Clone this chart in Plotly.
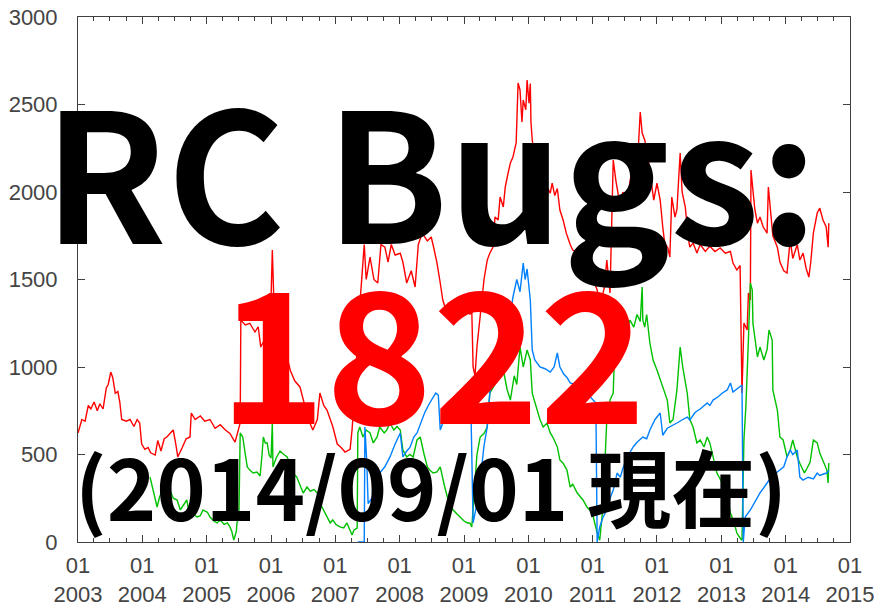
import datetime as dt
import plotly.graph_objects as go

# ---- data (decimal years, counts) ----
red_years = [2003.00, 2003.06, 2003.11, 2003.16, 2003.20, 2003.25, 2003.30, 2003.34, 2003.39, 2003.44,
             2003.47, 2003.51, 2003.54, 2003.58, 2003.62, 2003.65, 2003.68, 2003.75, 2003.81, 2003.87,
             2003.92, 2003.96, 2003.99, 2004.04, 2004.09, 2004.13, 2004.20, 2004.24, 2004.29, 2004.34,
             2004.38, 2004.43, 2004.48, 2004.52, 2004.55, 2004.62, 2004.68, 2004.74, 2004.76, 2004.82,
             2004.90, 2004.97, 2005.05, 2005.13, 2005.21, 2005.29, 2005.36, 2005.44, 2005.49, 2005.52,
             2005.53, 2005.60, 2005.67, 2005.75, 2005.80, 2005.84, 2005.89, 2005.94, 2005.98, 2006.02,
             2006.05, 2006.11, 2006.19, 2006.25, 2006.30, 2006.37, 2006.45, 2006.51, 2006.58, 2006.65,
             2006.72, 2006.76, 2006.82, 2006.87, 2006.92, 2006.96, 2007.03, 2007.09, 2007.15, 2007.23,
             2007.26, 2007.31, 2007.35, 2007.41, 2007.45, 2007.48, 2007.54, 2007.60, 2007.66, 2007.71,
             2007.77, 2007.82, 2007.87, 2007.93, 2008.01, 2008.05, 2008.11, 2008.18, 2008.24, 2008.29,
             2008.35, 2008.43, 2008.49, 2008.53, 2008.58, 2008.63, 2008.67, 2008.74, 2008.80, 2008.86,
             2008.91, 2008.97, 2009.03, 2009.09, 2009.12, 2009.14, 2009.17, 2009.20, 2009.25, 2009.31,
             2009.36, 2009.40, 2009.45, 2009.48, 2009.53, 2009.56, 2009.61, 2009.64, 2009.68, 2009.72,
             2009.76, 2009.81, 2009.84, 2009.87, 2009.90, 2009.92, 2009.96, 2009.98, 2010.01, 2010.03,
             2010.04, 2010.06, 2010.10, 2010.18, 2010.26, 2010.34, 2010.37, 2010.41, 2010.45, 2010.49,
             2010.54, 2010.59, 2010.65, 2010.69, 2010.77, 2010.85, 2010.93, 2011.01, 2011.07, 2011.11,
             2011.18, 2011.22, 2011.27, 2011.32, 2011.36, 2011.43, 2011.47, 2011.53, 2011.60, 2011.66,
             2011.71, 2011.74, 2011.77, 2011.81, 2011.86, 2011.89, 2011.95, 2012.00, 2012.05, 2012.09,
             2012.12, 2012.17, 2012.20, 2012.23, 2012.28, 2012.31, 2012.36, 2012.39, 2012.44, 2012.48,
             2012.51, 2012.56, 2012.62, 2012.67, 2012.75, 2012.82, 2012.90, 2012.98, 2013.06, 2013.14,
             2013.18, 2013.24, 2013.29, 2013.32, 2013.35, 2013.40, 2013.42, 2013.45, 2013.46, 2013.49,
             2013.52, 2013.56, 2013.60, 2013.65, 2013.71, 2013.73, 2013.76, 2013.80, 2013.87, 2013.91,
             2013.97, 2014.02, 2014.07, 2014.11, 2014.18, 2014.22, 2014.27, 2014.32, 2014.36, 2014.39,
             2014.43, 2014.46, 2014.49, 2014.53, 2014.58, 2014.63, 2014.66, 2014.67]
red_values = [623, 700, 690, 780, 760, 800, 750, 790, 760, 880,
              900, 971, 940, 850, 860, 800, 700, 690, 700, 660,
              700, 680, 560, 530, 540, 510, 497, 580, 520, 590,
              600, 620, 640, 560, 486, 540, 590, 600, 737, 700,
              720, 690, 700, 650, 670, 640, 620, 571, 640, 680,
              1268, 1240, 1250, 1200, 1230, 1114, 1150, 1080, 1120, 1668,
              1300, 1150, 1080, 1057, 980, 920, 886, 794, 700, 640,
              700, 851, 780, 754, 700, 660, 560, 540, 514, 530,
              640, 900, 1200, 1500, 1700, 1500, 1628, 1500, 1480, 1700,
              1685, 1600, 1700, 1640, 1650, 1600, 1480, 1550, 1457, 1700,
              1765, 1720, 1743, 1680, 1594, 1480, 1383, 1300, 1340, 1285,
              1330, 1300, 1343, 1300, 1320, 1000, 950, 1114, 1300, 1500,
              1611, 1650, 1685, 1857, 1840, 1971, 1914, 2028, 2100, 2166,
              2200, 2280, 2623, 2583, 2400, 2525, 2470, 2640, 2508, 2620,
              2400, 2297, 2200, 2100, 2050, 1994, 2051, 1980, 2020, 1897,
              1840, 1765, 1700, 1668, 1650, 1600, 1550, 1500, 1440, 1350,
              1450, 1611, 1423, 2183, 2068, 1914, 2000, 1950, 2100, 2150,
              2250, 2457, 2337, 2297, 2200, 2108, 1954, 2050, 1954, 1800,
              1708, 1680, 1628, 1971, 1857, 1900, 2223, 2000, 1914, 1750,
              1685, 1708, 1651, 1700, 1660, 1690, 1660, 1680, 1650, 1660,
              1594, 1554, 1580, 851, 1251, 1211, 1423, 1383, 2126, 2011,
              1900, 1822, 1857, 1800, 1765, 2028, 1900, 1750, 1685, 1600,
              1550, 1537, 1725, 1620, 1700, 1611, 1651, 1560, 1514, 1600,
              1765, 1820, 1880, 1908, 1840, 1800, 1685, 1822]

green_years = [2004.12, 2004.17, 2004.23, 2004.27, 2004.32, 2004.38, 2004.43, 2004.48, 2004.54, 2004.59,
               2004.65, 2004.69, 2004.74, 2004.79, 2004.85, 2004.90, 2004.94, 2005.01, 2005.05, 2005.11,
               2005.16, 2005.21, 2005.27, 2005.32, 2005.36, 2005.39, 2005.42, 2005.46, 2005.47, 2005.50,
               2005.52, 2005.56, 2005.60, 2005.63, 2005.67, 2005.72, 2005.78, 2005.83, 2005.86, 2005.88,
               2005.91, 2005.94, 2005.97, 2006.00, 2006.02, 2006.03, 2006.08, 2006.14, 2006.20, 2006.25,
               2006.30, 2006.34, 2006.40, 2006.45, 2006.50, 2006.56, 2006.61, 2006.67, 2006.72, 2006.76,
               2006.82, 2006.87, 2006.92, 2006.96, 2007.01, 2007.07, 2007.13, 2007.18, 2007.23, 2007.26,
               2007.29, 2007.34, 2007.35, 2007.38, 2007.43, 2007.48, 2007.54, 2007.59, 2007.65, 2007.69,
               2007.76, 2007.80, 2007.85, 2007.91, 2007.96, 2008.01, 2008.05, 2008.11, 2008.16, 2008.21,
               2008.27, 2008.32, 2008.38, 2008.43, 2008.47, 2008.52, 2008.58, 2008.63, 2008.69, 2008.74,
               2008.78, 2008.83, 2008.89, 2008.94, 2009.00, 2009.05, 2009.09, 2009.12, 2009.16, 2009.20,
               2009.25, 2009.31, 2009.36, 2009.40, 2009.48, 2009.56, 2009.61, 2009.67, 2009.72, 2009.78,
               2009.82, 2009.87, 2009.92, 2009.98, 2010.03, 2010.06, 2010.10, 2010.14, 2010.18, 2010.23,
               2010.29, 2010.34, 2010.38, 2010.45, 2010.49, 2010.54, 2010.60, 2010.65, 2010.69, 2010.76,
               2010.80, 2010.85, 2010.91, 2010.96, 2011.01, 2011.07, 2011.11, 2011.16, 2011.22, 2011.27,
               2011.32, 2011.35, 2011.38, 2011.43, 2011.47, 2011.53, 2011.58, 2011.64, 2011.69, 2011.74,
               2011.77, 2011.78, 2011.81, 2011.84, 2011.89, 2011.94, 2012.00, 2012.05, 2012.09, 2012.16,
               2012.20, 2012.25, 2012.31, 2012.36, 2012.40, 2012.47, 2012.51, 2012.56, 2012.62, 2012.67,
               2012.73, 2012.78, 2012.82, 2012.87, 2012.93, 2012.98, 2013.04, 2013.09, 2013.14, 2013.20,
               2013.24, 2013.29, 2013.32, 2013.35, 2013.38, 2013.42, 2013.45, 2013.48, 2013.49, 2013.56,
               2013.60, 2013.66, 2013.71, 2013.74, 2013.79, 2013.80, 2013.87, 2013.91, 2013.96, 2014.02,
               2014.07, 2014.11, 2014.18, 2014.22, 2014.29, 2014.33, 2014.38, 2014.43, 2014.49, 2014.53,
               2014.58, 2014.64, 2014.66, 2014.67]
green_values = [371, 300, 200, 260, 297, 260, 297, 250, 240, 183,
                220, 240, 143, 160, 143, 150, 183, 170, 143, 120,
                109, 126, 100, 109, 86, 60, 11, 60, 109, 143,
                623, 600, 500, 429, 411, 394, 400, 377, 500, 600,
                566, 566, 497, 480, 680, 429, 480, 520, 500, 486,
                440, 394, 371, 320, 280, 314, 290, 300, 280, 223,
                180, 150, 109, 126, 100, 86, 80, 109, 60, 40,
                69, 80, 623, 657, 600, 640, 623, 566, 600, 657,
                623, 640, 680, 640, 660, 640, 526, 486, 500, 486,
                583, 600, 500, 429, 410, 394, 400, 429, 330, 257,
                220, 183, 160, 143, 120, 109, 109, 86, 300, 500,
                600, 620, 657, 851, 900, 950, 983, 870, 811, 950,
                900, 1114, 1000, 1097, 1040, 851, 800, 737, 700, 657,
                680, 623, 600, 543, 469, 450, 411, 314, 330, 280,
                260, 240, 200, 180, 143, 51, 11, 200, 700, 811,
                851, 1200, 1268, 1171, 1230, 1200, 1268, 1228, 1300, 1260,
                1457, 1268, 1228, 1300, 1137, 1040, 983, 926, 886, 811,
                680, 700, 869, 1114, 1000, 850, 700, 657, 566, 583,
                543, 600, 566, 486, 394, 360, 314, 257, 166, 109,
                51, 23, 10, 583, 771, 1154, 1480, 1440, 1251, 1057,
                1114, 1040, 1100, 1211, 1154, 869, 754, 600, 583, 486,
                526, 583, 486, 450, 394, 420, 457, 583, 566, 509,
                469, 411, 337, 451]

blue_years = [2007.35, 2007.45, 2007.46, 2007.49, 2007.51, 2007.57, 2007.63, 2007.69, 2007.77, 2007.85,
              2007.93, 2008.01, 2008.05, 2008.11, 2008.16, 2008.22, 2008.27, 2008.33, 2008.39, 2008.46,
              2008.52, 2008.56, 2008.60, 2008.63, 2008.67, 2008.74, 2008.81, 2008.89, 2008.97, 2009.05,
              2009.11, 2009.14, 2009.19, 2009.25, 2009.31, 2009.36, 2009.40, 2009.48, 2009.56, 2009.64,
              2009.72, 2009.76, 2009.82, 2009.87, 2009.92, 2009.95, 2009.98, 2010.03, 2010.06, 2010.10,
              2010.18, 2010.26, 2010.34, 2010.40, 2010.45, 2010.49, 2010.55, 2010.60, 2010.65, 2010.73,
              2010.80, 2010.88, 2010.96, 2011.05, 2011.07, 2011.11, 2011.16, 2011.22, 2011.27, 2011.32,
              2011.38, 2011.43, 2011.47, 2011.53, 2011.63, 2011.69, 2011.78, 2011.84, 2011.89, 2011.97,
              2012.05, 2012.09, 2012.16, 2012.20, 2012.31, 2012.40, 2012.47, 2012.51, 2012.59, 2012.67,
              2012.78, 2012.82, 2012.87, 2012.95, 2013.01, 2013.09, 2013.14, 2013.18, 2013.23, 2013.29,
              2013.32, 2013.34, 2013.37, 2013.45, 2013.52, 2013.60, 2013.71, 2013.79, 2013.87, 2013.91,
              2013.97, 2014.02, 2014.07, 2014.11, 2014.18, 2014.22, 2014.27, 2014.35, 2014.43, 2014.49,
              2014.53, 2014.60, 2014.64, 2014.67]
blue_values = [0, 0, 657, 450, 220, 250, 330, 394, 430, 486,
               560, 623, 486, 520, 540, 600, 623, 680, 740, 790,
               829, 851, 840, 640, 680, 700, 690, 700, 720, 700,
               690, 109, 200, 350, 550, 657, 851, 1000, 1100, 1200,
               1300, 1400, 1500, 1430, 1594, 1500, 1560, 1383, 1097, 1040,
               1000, 990, 971, 1000, 1080, 1000, 960, 940, 909, 900,
               880, 860, 830, 794, 0, 86, 140, 183, 250, 297,
               394, 370, 420, 480, 543, 570, 600, 590, 640, 700,
               737, 610, 650, 657, 680, 700, 714, 697, 740, 760,
               794, 780, 811, 830, 850, 869, 909, 857, 870, 890,
               897, 0, 143, 183, 230, 280, 337, 380, 400, 411,
               430, 486, 526, 500, 526, 371, 354, 370, 360, 394,
               380, 390, 394, 411]

title_line1 = "RC Bugs:"
title_count = "1822"
title_date = "(2014/09/01 現在)"


def to_date(y):
    yr = int(y)
    start = dt.datetime(yr, 1, 1)
    end = dt.datetime(yr + 1, 1, 1)
    return start + (end - start) * (y - yr)


fig = go.Figure()
for yrs, vals, col in [(red_years, red_values, "#ff0000"),
                       (green_years, green_values, "#00c000"),
                       (blue_years, blue_values, "#0080ff")]:
    fig.add_trace(go.Scatter(x=[to_date(v) for v in yrs], y=vals, mode="lines",
                             line=dict(color=col, width=1.4), showlegend=False,
                             hoverinfo="skip"))

axis_col = "#404040"
tick_font = dict(family="Liberation Sans", size=22, color="#444444")

fig.update_xaxes(type="date", range=[dt.datetime(2003, 1, 1), dt.datetime(2015, 1, 1)],
                 tick0="2003-01-01", dtick="M12", tickformat="%m<br>%Y",
                 ticks="inside", ticklen=7, tickcolor=axis_col, tickwidth=1,
                 minor=dict(dtick="M3", ticks="inside", ticklen=4, tickcolor=axis_col),
                 showline=True, linecolor=axis_col, linewidth=1, mirror="allticks",
                 showgrid=False, zeroline=False, tickfont=tick_font, ticklabelstandoff=4,
                 ticklabeloverflow="allow", automargin=False)
fig.update_yaxes(range=[0, 3000], dtick=500, tick0=0,
                 ticks="inside", ticklen=7, tickcolor=axis_col, tickwidth=1,
                 showline=True, linecolor=axis_col, linewidth=1, mirror="allticks",
                 showgrid=False, zeroline=False, tickfont=tick_font, ticklabelstandoff=15,
                 ticklabeloverflow="allow", automargin=False)

big = "Noto Sans CJK JP"
fig.add_annotation(text=title_line1, xref="paper", yref="paper", x=0.457, y=0.717,
                   xanchor="center", yanchor="middle", showarrow=False,
                   font=dict(family=big, size=180, color="#000000", weight=700))
fig.add_annotation(text=title_count, xref="paper", yref="paper", x=0.459, y=0.376,
                   xanchor="center", yanchor="middle", showarrow=False,
                   font=dict(family=big, size=181, color="#ff0000", weight=700))
fig.add_annotation(text=title_date, xref="paper", yref="paper", x=0.457, y=0.109,
                   xanchor="center", yanchor="middle", showarrow=False,
                   font=dict(family=big, size=84, color="#000000", weight=700))

fig.update_layout(width=874, height=606, margin=dict(l=78, r=24, t=17, b=64),
                  paper_bgcolor="white", plot_bgcolor="white")

# remove the default 8px page margin so the figure fills the window exactly
fig.write_html("out.html", config={"displayModeBar": False},
               post_script="document.body.style.margin='0';document.body.style.overflow='hidden';")
